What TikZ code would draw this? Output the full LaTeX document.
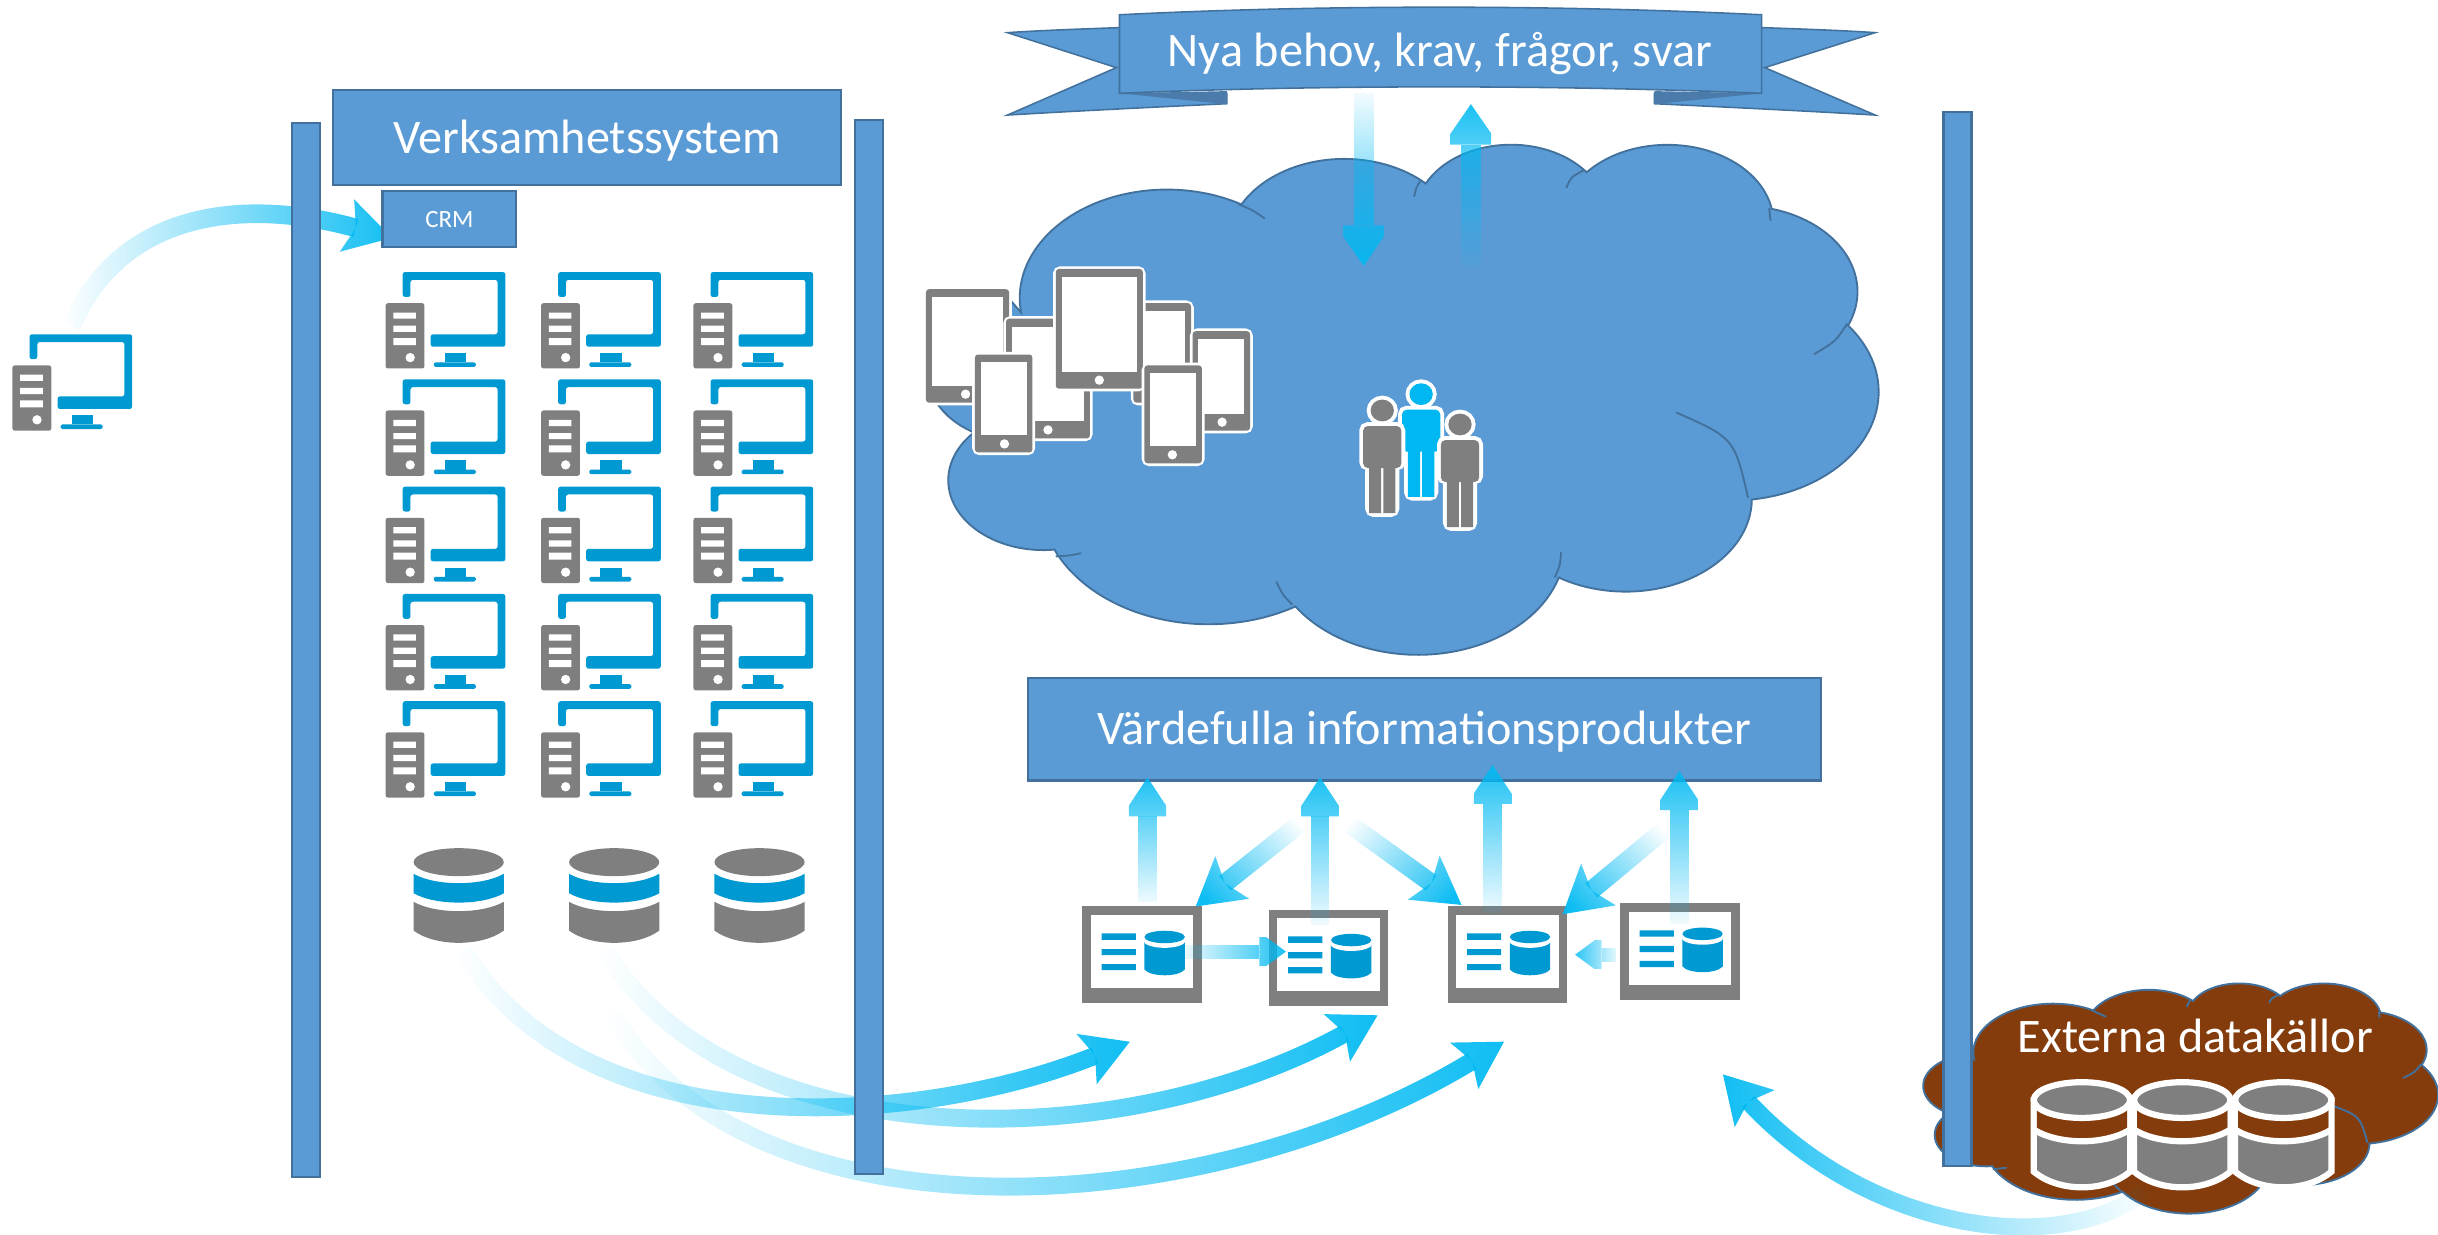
\documentclass[tikz,border=0pt]{standalone}
\usepackage{fontspec}
\setmainfont{Carlito}
\usetikzlibrary{arrows.meta,fadings}
\definecolor{panelblue}{HTML}{5B9BD5}
\definecolor{paneledge}{HTML}{41719C}
\definecolor{folddark}{HTML}{4A7BAA}
\definecolor{iconblue}{HTML}{0099D2}
\definecolor{icongray}{HTML}{7F7F7F}
\definecolor{flowcyan}{HTML}{00B9F2}
\definecolor{peopleblue}{HTML}{00B8F1}
\definecolor{cloudbrown}{HTML}{843C0C}
\tikzfading[name=flowfade, left color=transparent!100, right color=transparent!5]

\tikzset{
  panel/.style={rectangle, draw=paneledge, line width=1.5pt, fill=panelblue, text=white, inner sep=0pt},
  vbar/.style={panel, minimum width=18pt},
  title/.style={font=\fontsize{31}{33}\selectfont, text height=20pt, text depth=0pt},
  flow/.style={color=flowcyan, line width=12pt, path fading=flowfade},
  tri/.style={-{Triangle[length=25pt,width=33pt,color=flowcyan,fill=flowcyan,line width=0pt]}},
  tribig/.style={-{Triangle[length=26pt,width=36pt,color=flowcyan,fill=flowcyan,line width=0pt]}},
  trismall/.style={-{Triangle[length=17pt,width=25pt,color=flowcyan,fill=flowcyan,line width=0pt]}},
  stl/.style={-{Stealth[length=30pt,width=35pt,inset=6pt,color=flowcyan,fill=flowcyan,line width=0pt]}},
  cloudfill/.style={fill=#1, draw=paneledge, line width=1.2pt}
}

% screen with tower
\newcommand{\pcicon}[2]{%
  \begin{scope}[shift={(#1,#2)}]
    \fill[iconblue, rounded corners=1.5pt] (0,16) -- (0,0) -- (66,0) -- (66,48) -- (18,48) -- (18,40) -- (61,40) -- (61,5) -- (5,5) -- (5,16) -- cycle;
    \fill[iconblue] (27,52) rectangle (41,58);
    \fill[iconblue, rounded corners=1pt] (20,61) -- (20,58) -- (47,58) -- (47,61) -- cycle;
    \fill[icongray, rounded corners=1.5pt] (-11,20) rectangle (14,62);
    \fill[white] (-6,26) rectangle (8.5,30) (-6,34.5) rectangle (8.5,38.5) (-6,42.5) rectangle (8.5,47);
    \fill[white] (4.8,55) circle[radius=3];
  \end{scope}}

% gray database with a blue band
\newcommand{\dbicon}[2]{%
  \begin{scope}[shift={(#1,#2)}]
    \fill[icongray] (0,0) ellipse[x radius=29, y radius=9];
    \fill[iconblue] (-29,7.5) .. controls (-15,15.5) and (15,15.5) .. (29,7.5) -- (29,20) .. controls (15,28) and (-15,28) .. (-29,20) -- cycle;
    \fill[icongray] (-29,25.5) .. controls (-15,33.5) and (15,33.5) .. (29,25.5) -- (29,44) .. controls (15,54.5) and (-15,54.5) .. (-29,44) -- cycle;
  \end{scope}}

% database on the brown cloud
\newcommand{\extdb}[2]{%
  \begin{scope}[shift={(#1,#2)}]
    \draw[white, line width=4pt, fill=icongray] (-31,0) -- (-31,46) .. controls (-15,59.5) and (15,59.5) .. (31,46) -- (31,0) -- cycle;
    \fill[cloudbrown] (-29,2) -- (-29,19) .. controls (-15,29) and (15,29) .. (29,19) -- (29,2) -- cycle;
    \draw[white, line width=4pt] (-31,19) .. controls (-15,29) and (15,29) .. (31,19);
    \draw[white, line width=4pt, fill=icongray] (0,0) ellipse[x radius=31, y radius=11.5];
  \end{scope}}

% report on a gray frame
\newcommand{\reporticon}[2]{%
  \begin{scope}[shift={(#1,#2)}]
    \fill[icongray] (0,0) rectangle (77,62);
    \fill[white] (5.6,5.6) rectangle (71.4,52.4);
    \fill[iconblue] (12.5,17.3) rectangle (34.5,21.4) (12.5,27.4) rectangle (34.5,31.3) (12.5,37) rectangle (34.5,41);
    \fill[iconblue] (40,22) -- (40,40.5) .. controls (44,45.5) and (62,45.5) .. (66,40.5) -- (66,22) -- cycle;
    \fill[white] (53,22) ellipse[x radius=13.5, y radius=4.6];
    \fill[iconblue] (53,19.6) ellipse[x radius=13, y radius=4];
  \end{scope}}

% x0, y0, x1, y1 of a tablet or a phone
\newcommand{\tablet}[5]{%
  \draw[white, line width=3.5pt, rounded corners=3pt] (#1,#2) rectangle (#3,#4);
  \fill[icongray, rounded corners=2pt] (#1,#2) rectangle (#3,#4);
  \fill[white] ({#1+3.7},{#2+5}) rectangle ({#3-3.7},{#4-11});
  \fill[white] (#5,{#4-5.5}) circle[radius=3];}

\newcommand{\person}[3]{%
  \begin{scope}[shift={(#1,#2)}]
    \draw[white, line width=5pt, rounded corners=3pt, fill=white] (-12.3,10) rectangle (12.3,36) (-8.5,36) rectangle (8.5,66) (0,0) ellipse[x radius=7.5, y radius=7];
    \fill[#3] (0,0) ellipse[x radius=7.5, y radius=7];
    \fill[#3, rounded corners=3pt] (-12.3,10) rectangle (12.3,37);
    \fill[#3] (-8.5,36) rectangle (-0.7,66) (0.7,36) rectangle (8.5,66);
  \end{scope}}

\newcommand{\cloudshape}[5]{%
  \begin{scope}[shift={(#1,#2)}, x={#3/4320*1pt}, y={-#4/4320*1pt}]
    \path[cloudfill=#5] (390,1437) foreach \rx/\ry/\aS/\aD in {675.3/919/-190.49/123.78, 533.3/726.7/-144.10/89.95, 436.5/594.5/-145.81/99.72, 485.7/659.5/-130.99/117.24, 533.3/727.3/-78.71/109.03, 677.5/922/-46.27/130.27, 578.5/786.7/0.63/114.03, 675.2/921.5/22.45/115.17, 772/1054.3/66.24/82.96, 436/591.8/-274.94/146.74, 434.5/594.5/-246.83/152.52}
      { arc[start angle={atan2(\rx*sin(\aS),\ry*cos(\aS))}, delta angle={mod(atan2(\rx*sin(\aS+\aD),\ry*cos(\aS+\aD))-atan2(\rx*sin(\aS),\ry*cos(\aS))+720,360)}, x radius=\rx, y radius=\ry] } -- cycle;
    \draw[paneledge, line width=1.2pt] (549,3502) .. controls (615,3495) .. (666,3474) (1560,3716) .. controls (1590,3830) .. (1634,3911) (2866,3467) .. controls (2861,3580) .. (2837,3680) (3394,2283) .. controls (3660,2500) .. (3723,3005) (4026,1789) .. controls (4125,1680) .. (4178,1529) (3820,551) -- (3826,658) (2969,231) .. controls (2910,290) .. (2890,380) (2221,320) .. controls (2201,380) .. (2192,455) (1385,516) .. controls (1453,570) .. (1508,640);
  \end{scope}}

\begin{document}
\begin{tikzpicture}[x=1pt,y=-1pt]
\useasboundingbox (0,0) rectangle (1568,794);

\foreach \n/\x/\y in {pcout/46/210, crmin/252/153, dbAout/298/611, dbBout/389/611, dbCout/394/652, repAin/727/670, repBin/886/653, repCin/968/670, extout/1379/767, extin/1108/691} {
  \coordinate (\n) at (\x,\y);
}

% flows from the systems
\draw[flow, stl] (pcout) .. controls (75,140) and (150,125) .. (crmin);
\draw[flow, stl, line width=11.5pt] (dbAout) .. controls (375,740) and (590,725) .. (repAin);
\draw[flow, stl, line width=11.5pt] (dbBout) .. controls (470,745) and (720,745) .. (repBin);
\draw[flow, stl, line width=11.5pt] (dbCout) .. controls (480,800) and (770,790) .. (repCin);

\node[vbar, minimum height=678pt] (barA) at (197,418) {};
\node[vbar, minimum height=678pt] (barB) at (559,416) {};

\node[panel, title, minimum width=327pt, minimum height=61pt] (verksamhet) at (377.5,88.5) {Verksamhetssystem};
\node[panel, minimum width=86pt, minimum height=36pt, font=\fontsize{16}{18}\selectfont] (crm) at (289,141) {CRM};

\pcicon{19}{215}
\foreach \x in {259,359,457} {
  \foreach \y in {175,244,313,382,451} {
    \pcicon{\x}{\y}
  }
}
\dbicon{295}{554.5}
\dbicon{395}{554.5}
\dbicon{488.5}{554.5}

% banner
\fill[panelblue, draw=paneledge, line width=1pt] (648,21) .. controls (670,19.5) and (700,18.5) .. (722,17.7) -- (722,60) -- (789,60) -- (789,66.7) .. controls (740,69) and (690,71.5) .. (648,74) -- (718,43.5) -- cycle;
\fill[panelblue, draw=paneledge, line width=1pt] (1206,21) .. controls (1184,19.5) and (1154,18.5) .. (1131,17.7) -- (1131,60) -- (1064,60) -- (1064,66.7) .. controls (1113,69) and (1164,71.5) .. (1206,74) -- (1135,43.5) -- cycle;
\fill[folddark] (720,60) -- (789,58.6) -- (789,67) -- cycle;
\fill[folddark] (1133,60) -- (1064,58.6) -- (1064,67) -- cycle;
\draw[fill=panelblue, draw=paneledge, line width=1pt] (720,9.5) .. controls (850,3) and (1000,3) .. (1133,9.5) -- (1133,60) .. controls (1000,54.5) and (850,54.5) .. (720,60) -- cycle;
\node[title, text=white, inner sep=0pt] (behov) at (926,33) {Nya behov, krav, frågor, svar};

\cloudshape{602}{92}{606}{328}{panelblue}

\foreach \n/\x/\y in {downs/877/60, downt/877/171, ups/946/172, upt/946/67} {
  \coordinate (\n) at (\x,\y);
}
\draw[flow, tribig, line width=13pt, fading angle=-90] (downs) -- (downt);
\draw[flow, tribig, line width=13pt, fading angle=90] (ups) -- (upt);

% devices
\tablet{595.5}{186}{649}{259}{621}
\tablet{647}{205}{701}{282}{674}
\tablet{729}{195}{766}{259}{748}
\tablet{679}{173}{735}{250}{707}
\tablet{767}{213}{804}{277}{786}
\tablet{736}{235}{773}{298}{754}
\tablet{627}{228}{664}{291}{646}

\person{914}{253.5}{peopleblue}
\person{889}{264}{icongray}
\person{939}{273}{icongray}

\node[panel, title, minimum width=510pt, minimum height=66pt] (vardefulla) at (916,469) {Värdefulla informationsprodukter};

\reporticon{696}{583}
\reporticon{816}{585}
\reporticon{931}{583}
\reporticon{1042}{581}

\foreach \n/\x/\y in {upAs/738/580, upAt/738/500, upBs/849/595, upBt/849/500, upCs/960/587, upCt/960/492, upDs/1080/594, upDt/1080/496, diaEs/842/525, diaEt/769/583, diaFs/861/525, diaFt/940/582, diaGs/1076/529, diaGt/1005/588, sideHs/761/612, sideHt/827/612, sideIs/1039/614, sideIt/1013/614} {
  \coordinate (\n) at (\x,\y);
}
\foreach \s/\t in {upAs/upAt, upBs/upBt, upCs/upCt, upDs/upDt} {
  \draw[flow, tri, fading angle=90] (\s) -- (\t);
}
\draw[flow, stl, fading angle=-141] (diaEs) -- (diaEt);
\draw[flow, stl, fading angle=-36] (diaFs) -- (diaFt);
\draw[flow, stl, fading angle=-140] (diaGs) -- (diaGt);
\draw[flow, trismall, line width=9pt] (sideHs) -- (sideHt);
\draw[flow, trismall, line width=9pt, fading angle=180] (sideIs) -- (sideIt);

% external sources
\cloudshape{1240}{632}{328}{148}{cloudbrown}
\node[title, text=white, inner sep=0pt] (externa) at (1412,667) {Externa datakällor};
\extdb{1339}{707.5}
\extdb{1403.5}{707.5}
\extdb{1468.5}{707.5}
\node[vbar, minimum height=678pt] (barC) at (1259,411) {};
\draw[flow, stl, line width=11pt, fading angle=180] (extout) .. controls (1320,810) and (1200,790) .. (extin);
\end{tikzpicture}
\end{document}
